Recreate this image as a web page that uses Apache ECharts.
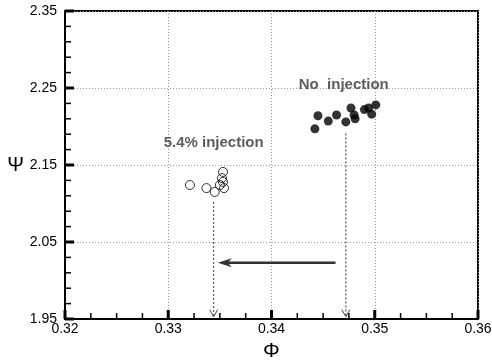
<!DOCTYPE html>
<html><head><meta charset="utf-8">
<script src="https://cdn.jsdelivr.net/npm/echarts@6/dist/echarts.min.js"></script>
<style>html,body{margin:0;padding:0;background:#fff}#c{width:492px;height:363px}</style>
</head><body><div id="c"></div>
<script>
// Axis ticks (actual values)
const xTickLabels = [0.32, 0.33, 0.34, 0.35, 0.36];
const yTickLabels = [1.95, 2.05, 2.15, 2.25, 2.35];
const xMinorPerMajor = 4;
const yMinorPerMajor = 5;
// No injection (filled)
const noInjPhi = [0.3442, 0.3445, 0.3455, 0.3463, 0.3472, 0.3477, 0.3480, 0.3481, 0.3490, 0.3494, 0.3497, 0.3501];
const noInjPsi = [2.197, 2.214, 2.207, 2.215, 2.206, 2.224, 2.215, 2.210, 2.222, 2.224, 2.216, 2.228];
// 5.4% injection (open)
const injPhi = [0.3321, 0.3337, 0.3345, 0.3353, 0.3352, 0.3353, 0.3354, 0.3350];
const injPsi = [2.124, 2.120, 2.115, 2.141, 2.133, 2.128, 2.120, 2.124];
// Dotted drop arrows: phi, psi start, psi end
const dropPhi = [0.3344, 0.3472];
const dropFrom = [2.102, 2.191];
const dropTo = [1.953, 1.953];
// Shift arrow: [phi start, phi end], psi
const shiftPhi = [0.3462, 0.3348];
const shiftPsi = 2.023;
// Annotations
const labelText = ['No  injection', '5.4% injection'];
const labelPhi = [0.3470, 0.3344];
const labelPsi = [2.254, 2.179];

const fx = v => v * 1000;
const fy = v => (v - 1.95) * 100;
const FONT = "'Liberation Sans', Arial, sans-serif";

const xMin = fx(xTickLabels[0]), xMax = fx(xTickLabels[xTickLabels.length - 1]);
const yMin = fy(yTickLabels[0]), yMax = fy(yTickLabels[yTickLabels.length - 1]);

const arrowData = [];
dropPhi.forEach((p, i) => arrowData.push([fx(p), fy(dropFrom[i]), fx(p), fy(dropTo[i]), 0]));
arrowData.push([fx(shiftPhi[0]), fy(shiftPsi), fx(shiftPhi[1]), fy(shiftPsi), 1]);

// tick marks built from the tick arrays: [x, y, kind] kind 0/1 x major/minor, 2/3 y major/minor
const tickData = [];
for (let k = 0; k < xTickLabels.length - 1; k++) {
  const a = fx(xTickLabels[k]), b = fx(xTickLabels[k + 1]);
  for (let m = 0; m < xMinorPerMajor; m++) tickData.push([a + (b - a) * m / xMinorPerMajor, yMin, m === 0 ? 0 : 1]);
}
tickData.push([xMax, yMin, 0]);
for (let k = 0; k < yTickLabels.length - 1; k++) {
  const a = fy(yTickLabels[k]), b = fy(yTickLabels[k + 1]);
  for (let m = 0; m < yMinorPerMajor; m++) tickData.push([xMin, a + (b - a) * m / yMinorPerMajor, m === 0 ? 2 : 3]);
}
tickData.push([xMin, yMax, 2]);

function renderTick(params, api) {
  const p = api.coord([api.value(0), api.value(1)]);
  const kind = api.value(2);
  const major = kind === 0 || kind === 2;
  const len = major ? 9 : 6;
  const shape = kind < 2
    ? { x1: p[0], y1: p[1], x2: p[0], y2: p[1] - len }
    : { x1: p[0], y1: p[1], x2: p[0] + len, y2: p[1] };
  return { type: 'line', shape, style: { stroke: '#000', lineWidth: major ? 3 : 1.5 } };
}

function renderArrow(params, api) {
  const a = api.coord([api.value(0), api.value(1)]);
  const b = api.coord([api.value(2), api.value(3)]);
  const kind = api.value(4);
  if (kind === 0) {
    return { type: 'group', children: [
      { type: 'line', shape: { x1: a[0], y1: a[1], x2: b[0], y2: b[1] },
        style: { stroke: '#333', lineWidth: 1, lineDash: [2, 2] } },
      { type: 'polyline', shape: { points: [[b[0] - 4, b[1] - 7], [b[0], b[1]], [b[0] + 4, b[1] - 7]] },
        style: { stroke: '#444', lineWidth: 1, fill: null } }
    ]};
  }
  const tip = b;
  return { type: 'group', children: [
    { type: 'line', shape: { x1: a[0], y1: a[1], x2: tip[0] + 6, y2: tip[1] },
      style: { stroke: '#333', lineWidth: 2.5 } },
    { type: 'polygon', shape: { points: [[tip[0], tip[1]], [tip[0] + 14, tip[1] - 4.5], [tip[0] + 10, tip[1]], [tip[0] + 14, tip[1] + 4.5]] },
      style: { fill: '#333' } }
  ]};
}

const chart = echarts.init(document.getElementById('c'), null, { renderer: 'canvas' });
chart.setOption({
  animation: false,
  backgroundColor: '#fff',
  grid: { left: 65, right: 14, top: 11, bottom: 44, show: true, borderColor: '#000', borderWidth: 2,
    containLabel: false, outerBoundsMode: 'none' },
  xAxis: {
    type: 'value', min: xMin, max: xMax, interval: 10,
    name: 'Φ', nameLocation: 'middle', nameGap: 22,
    nameTextStyle: { fontSize: 21, color: '#000', fontFamily: FONT },
    axisLine: { show: true, lineStyle: { color: '#000', width: 2 } },
    axisTick: { show: false },
    axisLabel: { margin: 3, fontSize: 14, color: '#000', fontFamily: FONT,
      formatter: v => (v / 1000).toFixed(2) },
    splitLine: { show: true, lineStyle: { color: '#999', width: 1, type: [1, 2] } }
  },
  yAxis: {
    type: 'value', min: yMin, max: yMax, interval: 10,
    name: 'Ψ', nameLocation: 'middle', nameRotate: 0, nameGap: 40,
    nameTextStyle: { fontSize: 20, color: '#000', fontFamily: FONT },
    axisLine: { show: true, lineStyle: { color: '#000', width: 2 } },
    axisTick: { show: false },
    axisLabel: { margin: 8, fontSize: 14, color: '#000', fontFamily: FONT,
      formatter: v => (v / 100 + 1.95).toFixed(2) },
    splitLine: { show: true, lineStyle: { color: '#999', width: 1, type: [1, 2] } }
  },
  series: [
    { type: 'custom', renderItem: renderArrow, data: arrowData, silent: true, z: 2 },
    { type: 'scatter', symbol: 'circle', symbolSize: 9, z: 3, silent: true,
      itemStyle: { color: 'rgba(0,0,0,0)', borderColor: '#000', borderWidth: 1 },
      data: injPhi.map((p, i) => [fx(p), fy(injPsi[i])]) },
    { type: 'scatter', symbol: 'circle', symbolSize: 9, z: 3, silent: true,
      itemStyle: { color: '#000' },
      data: noInjPhi.map((p, i) => [fx(p), fy(noInjPsi[i])]) },
    { type: 'scatter', symbolSize: 0, z: 4, silent: true,
      label: { show: true, position: 'inside', formatter: '{b}', color: '#333', fontSize: 15, fontWeight: 'bold', fontFamily: FONT },
      data: labelText.map((t, i) => ({ name: t, value: [fx(labelPhi[i]), fy(labelPsi[i])] })) },
    { type: 'custom', renderItem: renderTick, data: tickData, silent: true, z: 10, clip: false }
  ]
});
</script></body></html>
